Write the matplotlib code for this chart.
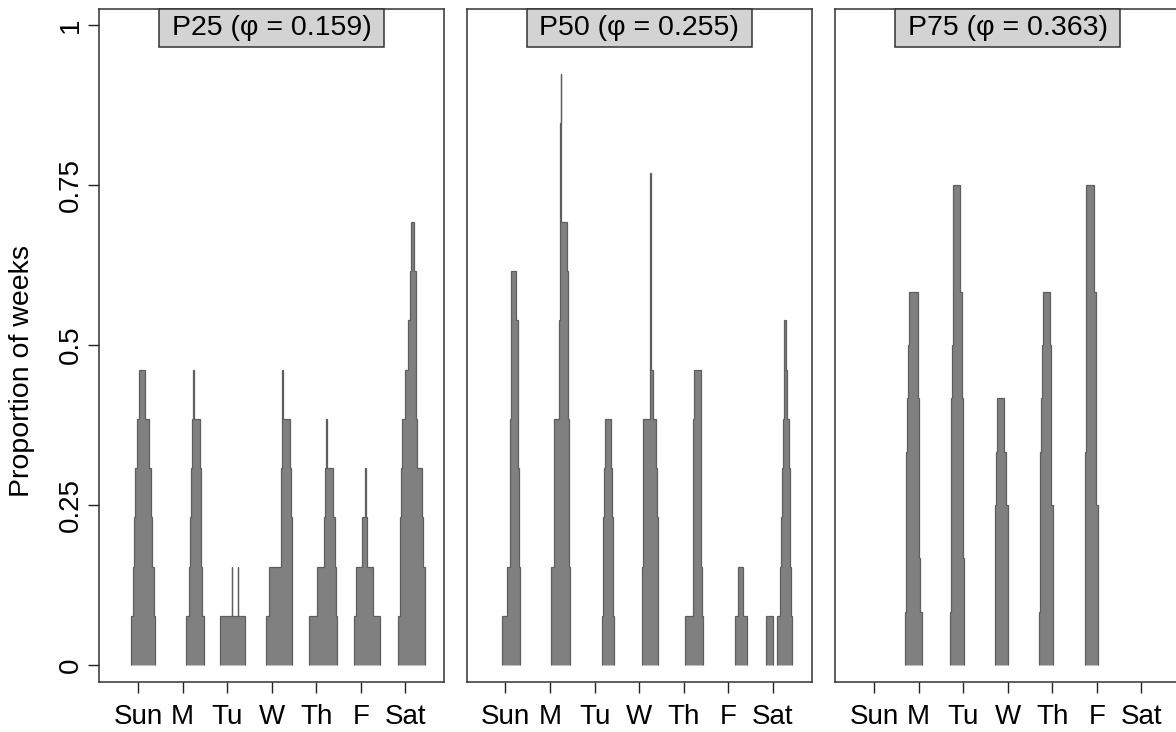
import matplotlib.pyplot as plt
from matplotlib.patches import Rectangle

plt.rcParams['font.family'] = ['Liberation Sans', 'DejaVu Sans']

days = ['Sun', 'M', 'Tu', 'W', 'Th', 'F', 'Sat']
titles = ['P25', 'P50', 'P75']
phis = [0.159, 0.255, 0.363]
n_weeks = [13, 13, 12]

# each (start, end) is one week-level of the profile, hours relative to the day tick
p25_bands = [
    [(-3.8, 9.3), (-2.7, 8.4), (-2.2, 7.4), (-1.4, 6.8), (-0.4, 5.9), (0.7, 4.0)],
    [(2.0, 11.3), (3.4, 10.4), (4.1, 10.0), (4.7, 9.7), (5.2, 9.3), (5.6, 6.1)],
    [(-3.6, 9.9), (2.5, 2.85), (5.75, 6.1)],
    [(-3.1, 11.1), (-1.6, 10.9), (5.0, 10.7), (5.2, 10.4), (5.4, 9.9), (5.5, 5.9)],
    [(-4.0, 11.1), (0.4, 10.6), (4.0, 10.0), (4.7, 9.0), (5.4, 5.9)],
    [(-3.8, 10.2), (-2.5, 6.5), (0.5, 3.2), (2.5, 3.05)],
    [(-3.8, 10.8), (-3.1, 10.4), (-2.7, 9.3), (-2.2, 9.0), (-1.6, 6.1),
     (0.0, 5.6), (1.6, 5.6), (2.7, 5.6), (3.2, 4.5)],
]
p50_bands = [
    [(-1.8, 7.7), (0.9, 7.7), (2.3, 7.4), (2.5, 7.2), (2.7, 7.0), (2.9, 6.8),
     (3.0, 6.6), (3.0, 5.4)],
    [(0.7, 10.8), (0.7, 10.8), (2.3, 10.0), (2.3, 10.0), (2.3, 10.0), (4.7, 9.9),
     (5.0, 9.7), (5.4, 9.5), (5.7, 9.3), (5.4, 5.9), (5.4, 5.9), (5.4, 5.8)],
    [(3.9, 10.6), (4.3, 10.0), (4.7, 9.7), (5.0, 9.5), (5.6, 9.0)],
    [(1.8, 10.2), (1.8, 10.2), (2.0, 9.9), (2.1, 9.5), (2.2, 9.3), (5.9, 7.2),
     (5.9, 6.4), (5.9, 6.4), (5.9, 6.4), (5.9, 6.4)],
    [(0.7, 10.2), (4.8, 9.9), (5.2, 9.5), (5.2, 9.5), (5.2, 9.5), (5.4, 9.1)],
    [(3.6, 10.2), (5.4, 8.1)],
    [(-3.6, 0.2), (2.0, 10.2), (3.9, 9.9), (4.3, 9.5), (4.8, 9.1), (5.4, 8.8),
     (6.1, 7.9), (6.1, 7.0)],
]
p75_bands = [
    [],
    [(-7.2, 1.6), (-7.0, 0.7), (-6.8, 0.5), (-6.6, 0.5), (-6.3, 0.4), (-5.6, -0.4),
     (-5.4, -0.5)],
    [(-6.8, 0.5), (-6.6, 0.4), (-6.6, 0.2), (-6.5, 0.2), (-6.3, 0.0), (-5.9, -0.7),
     (-5.7, -0.7), (-5.6, -1.6), (-5.6, -1.6)],
    [(-7.0, 0.4), (-7.0, 0.4), (-6.8, 0.4), (-6.3, -1.1), (-5.7, -2.0)],
    [(-7.0, 0.4), (-6.8, 0.4), (-6.6, 0.4), (-6.5, -0.5), (-6.3, -0.5), (-5.7, -0.9),
     (-5.0, -1.4)],
    [(-6.6, 0.7), (-6.5, 0.7), (-6.3, 0.7), (-6.1, -0.2), (-5.9, -0.2), (-5.7, -0.4),
     (-5.7, -0.5), (-5.6, -1.6), (-5.6, -1.6)],
    [],
]
all_bands = [p25_bands, p50_bands, p75_bands]


def pieces(bands):
    # turn the week intervals into step profiles, split where the count drops to 0
    edges = sorted({e for b in bands for e in b})
    counts = [sum(1 for s, e in bands if s <= a and e >= b)
              for a, b in zip(edges[:-1], edges[1:])]
    out = []
    cur_e, cur_c = [], []
    for i, c in enumerate(counts):
        if c > 0:
            if not cur_e:
                cur_e.append(edges[i])
            cur_e.append(edges[i + 1])
            cur_c.append(c)
        elif cur_e:
            out.append((cur_e, cur_c))
            cur_e, cur_c = [], []
    if cur_e:
        out.append((cur_e, cur_c))
    return out


W, H = 1176, 732
fig = plt.figure(figsize=(W / 100, H / 100), dpi=100)
lefts = [99, 466.5, 835]
ax_w = 345.3
top_px, bot_px = 9, 682.3

for p in range(3):
    ax = fig.add_axes([lefts[p] / W, (H - bot_px) / H, ax_w / W, (bot_px - top_px) / H])
    for d, bands in enumerate(all_bands[p]):
        if not bands:
            continue
        for e, c in pieces(bands):
            ax.stairs([v / n_weeks[p] for v in c], [d + h / 24 for h in e], baseline=0,
                      fill=True, facecolor='#808080', edgecolor='#5e5e5e', linewidth=0.9)
    ax.set_xlim(-0.875, 6.875)
    ax.set_ylim(-0.027, 1.025)
    ax.set_xticks(range(7))
    ax.set_xticklabels(days, fontsize=20)
    ax.tick_params(axis='x', length=8, width=1, pad=7.5, colors='#222222', labelcolor='black')
    if p == 0:
        ax.set_yticks([0, 0.25, 0.5, 0.75, 1])
        ax.set_yticklabels(['0', '0.25', '0.5', '0.75', '1'], rotation=90, va='center', fontsize=20)
        ax.tick_params(axis='y', length=8, width=1, pad=3, colors='#222222', labelcolor='black')
    else:
        ax.set_yticks([])
    for s in ax.spines.values():
        s.set_linewidth(1.1)
        s.set_color('#333333')
    bw = 225 / ax_w
    bh = 37.7 / (bot_px - top_px)
    ax.add_patch(Rectangle((0.5 - bw / 2, 1 - bh), bw, bh, transform=ax.transAxes,
                           facecolor='#d3d3d3', edgecolor='#333333', linewidth=1.1,
                           clip_on=False, zorder=5))
    ax.text(0.5, 1 - bh / 2, f'{titles[p]} (\u03c6 = {phis[p]:.3f})', transform=ax.transAxes,
            ha='center', va='center', fontsize=20.5, zorder=6)

fig.text(22 / W, 1 - 371 / H, 'Proportion of weeks', rotation=90, ha='center', va='center',
         fontsize=20.5)

fig.savefig('out.png', dpi=100)
